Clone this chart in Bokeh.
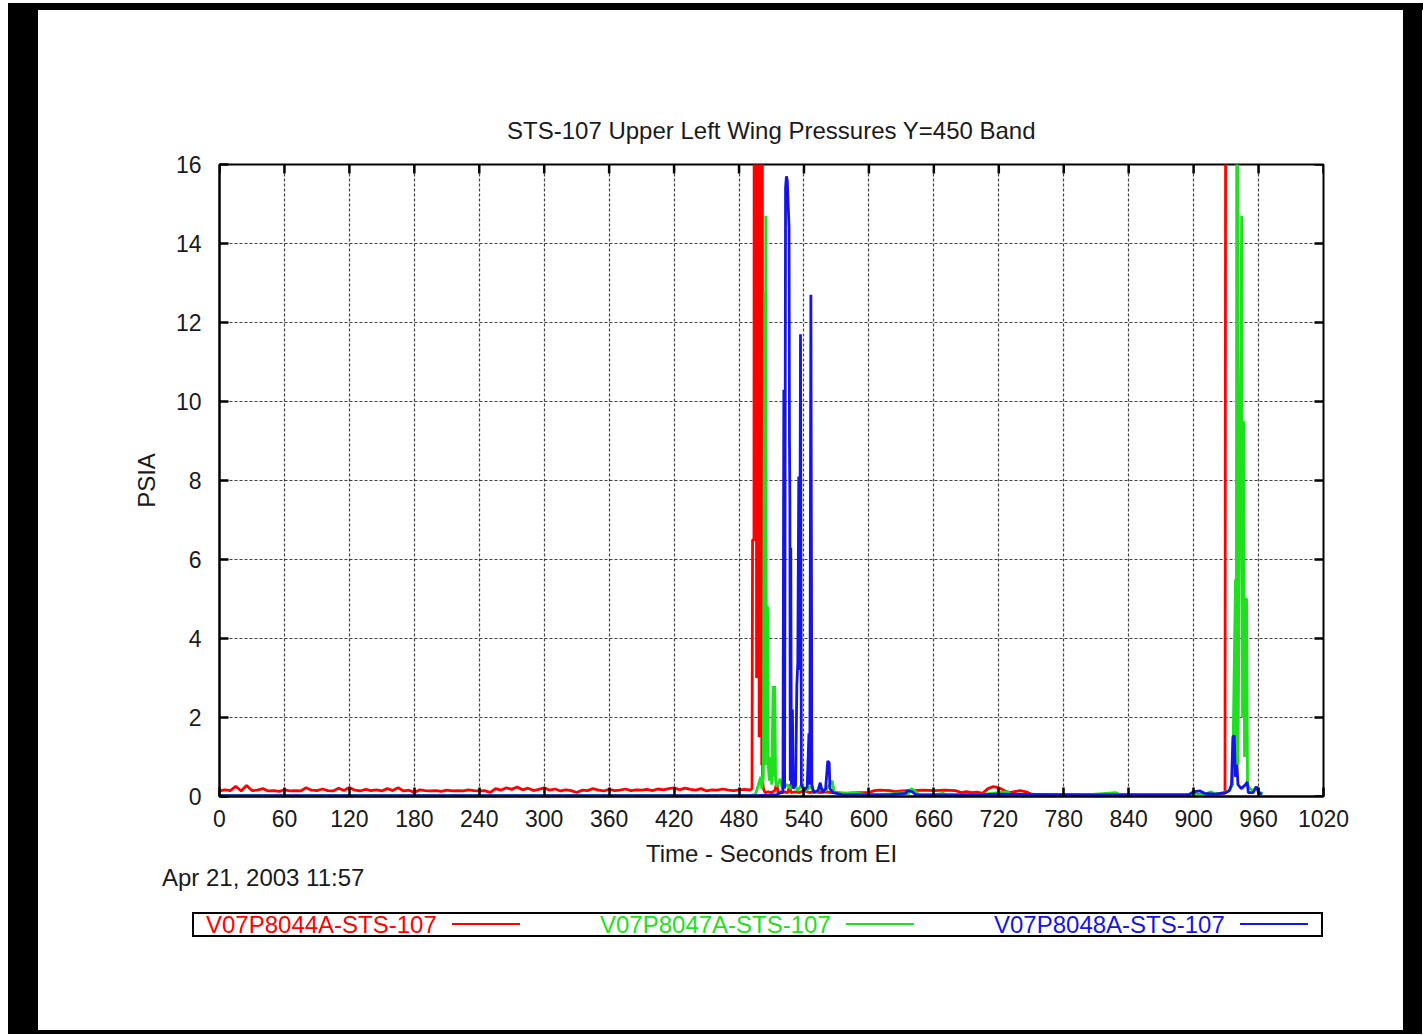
from bokeh.plotting import figure
from bokeh.models import Range1d, FixedTicker, Spacer, Div
from bokeh.layouts import column, row
from bokeh.embed import file_html
from bokeh.resources import INLINE

FONT = "Liberation Sans"
TXT = "#1a1a1a"

title_text = "STS-107 Upper Left Wing Pressures Y=450 Band"
x_label = "Time - Seconds from EI"
y_label = "PSIA"
date_text = "Apr 21, 2003 11:57"
x_ticks = [0, 60, 120, 180, 240, 300, 360, 420, 480, 540, 600, 660, 720, 780, 840, 900, 960, 1020]
y_ticks = [0, 2, 4, 6, 8, 10, 12, 14, 16]
series_names = ["V07P8044A-STS-107", "V07P8047A-STS-107", "V07P8048A-STS-107"]
series_colors = ["#ff0000", "#1ee01e", "#1414e6"]

# V07P8044A (red)
red_t = [0, 5, 10, 15, 20, 25, 30, 35, 40, 45, 50, 55, 60, 65, 70, 75, 80, 85, 90, 95,
         100, 105, 110, 115, 120, 125, 130, 135, 140, 145, 150, 155, 160, 165, 170, 175, 180, 185, 190, 195,
         200, 205, 210, 215, 220, 225, 230, 235, 240, 245, 250, 255, 260, 265, 270, 275, 280, 285, 290, 295,
         300, 305, 310, 315, 320, 325, 330, 335, 340, 345, 350, 355, 360, 365, 370, 375, 380, 385, 390, 395,
         400, 405, 410, 415, 420, 425, 430, 435, 440, 445, 450, 455, 460, 465, 470, 475, 480, 485, 490,
         492, 492.5, 493.8, 494.2, 494.6, 495.0, 495.4, 495.8, 496.2, 496.6, 497.0, 497.4, 497.8, 498.2,
         498.6, 499.0, 499.4, 499.8, 500.2, 500.6, 501.0, 501.4, 501.8, 502.5, 504, 507, 510, 513, 515, 516,
         520, 525, 527, 528, 532, 536, 540, 545, 550, 555, 560, 565, 570, 580, 590, 600, 605, 610, 620, 625,
         630, 640, 650, 660, 670, 680, 685, 690, 695, 700, 705, 710, 715, 720, 725, 730, 740, 745, 750, 760,
         780, 800, 820, 840, 860, 880, 900, 920, 929, 930, 965]
red_v = [0.14, 0.17, 0.15, 0.26, 0.14, 0.28, 0.15, 0.16, 0.20, 0.14, 0.15, 0.13, 0.17, 0.14, 0.15, 0.14, 0.22, 0.16, 0.15, 0.19,
         0.15, 0.14, 0.21, 0.15, 0.23, 0.16, 0.14, 0.18, 0.15, 0.17, 0.14, 0.20, 0.15, 0.22, 0.14, 0.16, 0.10, 0.17, 0.15, 0.14,
         0.15, 0.13, 0.16, 0.14, 0.15, 0.14, 0.17, 0.15, 0.14, 0.15, 0.10, 0.20, 0.16, 0.22, 0.18, 0.24, 0.17, 0.21, 0.15, 0.18,
         0.22, 0.16, 0.19, 0.14, 0.17, 0.15, 0.10, 0.16, 0.15, 0.20, 0.16, 0.14, 0.18, 0.15, 0.16, 0.19, 0.15, 0.17, 0.16, 0.18,
         0.15, 0.19, 0.17, 0.20, 0.22, 0.17, 0.21, 0.18, 0.16, 0.20, 0.14, 0.17, 0.16, 0.19, 0.16, 0.15, 0.17, 0.18, 0.16,
         0.20, 6.5, 6.5, 30, 10.8, 30, 8.8, 30, 3.0, 30, 12.0, 30, 5.0, 30,
         1.5, 30, 7.0, 30, 2.0, 30, 0.8, 30, 0.4, 0.20, 0.10, 0.12, 0.10, 0.15, 0.35, 0.10,
         0.12, 0.10, 0.30, 0.10, 0.12, 0.10, 0.15, 0.10, 0.12, 0.10, 0.12, 0.10, 0.10, 0.08, 0.10, 0.10, 0.15, 0.16, 0.15, 0.12,
         0.14, 0.15, 0.16, 0.15, 0.16, 0.15, 0.10, 0.12, 0.10, 0.11, 0.08, 0.20, 0.25, 0.22, 0.15, 0.10, 0.15, 0.12, 0.06, 0.05,
         0.05, 0.05, 0.05, 0.05, 0.05, 0.05, 0.05, 0.06, 0.08, 30, 30]

# V07P8047A (green)
green_t = [0, 490, 495, 498, 500, 501, 502.5, 503.3, 503.8, 504.3, 504.7, 505.3, 505.8, 506.4, 507.0, 508.0,
           509.3, 510.2, 511.5, 512.2, 513.0, 513.8, 515, 518, 520, 524, 528, 531, 534, 538, 542, 546, 550,
           555, 560, 566, 568, 575, 585, 595, 610, 625, 632, 636, 639, 642, 646, 660, 668, 672, 700, 720, 728,
           732, 760, 800, 828, 832, 880, 910, 916, 920, 928, 933, 936, 938.7, 939.4, 940.2, 941.0, 944.4, 945.2,
           946.3, 947.0, 947.8, 949.0, 949.8, 952, 955, 958, 961, 964]
green_v = [0.03, 0.03, 0.05, 0.30, 0.50, 0.20, 0.50, 8.8, 12.8, 0.8, 14.7, 2.0, 4.8, 4.8, 0.8, 0.4,
           1.0, 0.3, 2.8, 0.5, 2.8, 0.4, 0.25, 0.45, 0.20, 0.30, 0.20, 0.35, 0.15, 0.30, 0.15, 0.25, 0.10,
           0.20, 0.15, 0.40, 0.10, 0.08, 0.10, 0.06, 0.05, 0.08, 0.10, 0.05, 0.20, 0.15, 0.05, 0.04, 0.08, 0.04, 0.04, 0.10, 0.12,
           0.04, 0.04, 0.04, 0.10, 0.04, 0.04, 0.05, 0.12, 0.06, 0.10, 0.15, 0.30, 5.5, 0.5, 30, 0.8, 14.7, 2.0,
           9.5, 1.0, 5.0, 5.0, 0.3, 0.20, 0.15, 0.25, 0.10, 0.08]

# V07P8048A (blue)
blue_t = [0, 100, 200, 300, 400, 490, 505, 515, 519, 520.6, 521.4, 522.1, 523.0, 523.8, 524.6, 525.4, 526.2,
          526.6, 527.0, 527.3, 527.8, 528.4, 529.3, 530.0, 532.3, 533.4, 534.3, 535.2, 536.0, 536.8, 537.6, 540, 543,
          544.6, 545.4, 546.4, 547.3, 549, 553, 555, 557, 560, 562, 563.3, 564, 567, 575, 600, 620, 634, 636,
          640, 643, 660, 700, 720, 760, 800, 850, 895, 900, 906, 910, 920, 930, 933, 935, 936.3, 937.5, 938.5,
          940, 941, 944, 948, 949.5, 950.5, 955, 958, 960, 963]
blue_v = [0.02, 0.02, 0.02, 0.02, 0.02, 0.02, 0.03, 0.05, 0.10, 0.10, 10.3, 0.2, 15.4, 15.7, 15.6, 15.0, 14.4,
          9.0, 7.5, 0.4, 6.3, 0.3, 2.2, 0.2, 0.3, 2.8, 3.4, 8.1, 3.2, 11.7, 0.3, 0.15, 0.25,
          1.6, 0.3, 12.7, 0.3, 0.10, 0.15, 0.35, 0.10, 0.20, 0.90, 0.85, 0.20, 0.10, 0.05, 0.04, 0.05, 0.08, 0.15,
          0.12, 0.05, 0.04, 0.04, 0.06, 0.05, 0.04, 0.04, 0.04, 0.12, 0.14, 0.08, 0.06, 0.10, 0.15, 0.30, 1.5, 1.55, 0.5,
          0.8, 0.3, 0.2, 0.3, 0.37, 0.10, 0.10, 0.25, 0.10, 0.05]

FW, FH = 1104, 632
XMIN, XMAX, YMIN, YMAX = 0, 1020, 0, 16
p = figure(frame_width=FW, frame_height=FH,
           min_border_left=181, min_border_right=80, min_border_top=154, min_border_bottom=73,
           x_range=Range1d(XMIN, XMAX), y_range=Range1d(YMIN, YMAX),
           output_backend="svg", toolbar_location=None,
           background_fill_color="white", border_fill_color="white")
p.title.text = title_text
p.title.align = "center"
p.title.text_font = FONT
p.title.text_font_size = "24px"
p.title.text_font_style = "normal"
p.title.text_color = TXT
p.title.standoff = 42

p.outline_line_color = "black"
p.outline_line_width = 2
p.outline_line_alpha = 1

TICK = 9
for ax, ticks in ((p.xaxis[0], x_ticks), (p.yaxis[0], y_ticks)):
    ax.ticker = FixedTicker(ticks=ticks)
    ax.major_tick_in = TICK
    ax.major_tick_out = 0
    ax.major_tick_line_width = 2.5
    ax.major_tick_line_color = "black"
    ax.minor_tick_line_color = None
    ax.axis_line_color = "black"
    ax.axis_line_width = 2
    ax.major_label_text_font = FONT
    ax.major_label_text_font_size = "23px"
    ax.major_label_text_color = TXT
    ax.axis_label_text_font = FONT
    ax.axis_label_text_font_size = "24px"
    ax.axis_label_text_font_style = "normal"
    ax.axis_label_text_color = TXT

p.xaxis.axis_label = x_label
p.yaxis.axis_label = y_label
p.xaxis.major_label_standoff = 13
p.xaxis.axis_label_standoff = 10
p.yaxis.major_label_standoff = 18
p.yaxis.axis_label_standoff = 13

p.xgrid.ticker = FixedTicker(ticks=x_ticks)
p.ygrid.ticker = FixedTicker(ticks=y_ticks)
p.grid.grid_line_color = "#222222"
p.grid.grid_line_alpha = 0.85
p.grid.grid_line_width = 1.2
p.grid.grid_line_dash = "3 2"

for t, v, c in ((red_t, red_v, series_colors[0]),
                (green_t, green_v, series_colors[1]),
                (blue_t, blue_v, series_colors[2])):
    p.line(t, v, line_color=c, line_width=2.8)

# inward tick marks on the top and right edges (mirroring the bottom / left axes)
dy = TICK * (YMAX - YMIN) / FH
dx = TICK * (XMAX - XMIN) / FW
p.segment(x0=x_ticks, y0=[YMAX] * len(x_ticks), x1=x_ticks, y1=[YMAX - dy] * len(x_ticks),
          line_color="black", line_width=2.5)
p.segment(x0=[XMAX] * len(y_ticks), y0=y_ticks, x1=[XMAX - dx] * len(y_ticks), y1=y_ticks,
          line_color="black", line_width=2.5)

# date stamp and gnuplot-style key (text first, then line sample)
key_text_x = [168, 562, 956]
key_line_x = [414, 808, 1202]
KEY_TOP = 43
entries = ""
for name, c, tx, lx in zip(series_names, series_colors, key_text_x, key_line_x):
    entries += (f'<span style="position:absolute;left:{tx}px;top:{KEY_TOP}px;height:25px;line-height:25px;'
                f'color:{c};white-space:nowrap;">{name}</span>'
                f'<span style="position:absolute;left:{lx}px;top:{KEY_TOP + 11}px;width:68px;height:0;'
                f'border-top:2px solid {c};"></span>')
html = (f'<div style="position:relative;width:1365px;height:161px;background:white;'
        f'font-family:\'{FONT}\';font-size:24px;color:{TXT};">'
        f'<span style="position:absolute;left:124px;top:-3px;line-height:24px;white-space:nowrap;">{date_text}</span>'
        f'<div style="position:absolute;left:154px;top:{KEY_TOP}px;width:1131px;height:25px;'
        f'border:2px solid black;box-sizing:border-box;"></div>'
        f'{entries}</div>')
bottom = Div(text=html, width=1365, height=161, styles={"background-color": "white", "margin": "0"})

WHITE = {"background-color": "white"}
BLACK = {"background-color": "black"}
inner = column(p, bottom, spacing=0)
layout = column(
    Spacer(width=1423, height=3, styles=WHITE),
    row(Spacer(width=8, height=7, styles=WHITE), Spacer(width=1415, height=7, styles=BLACK), spacing=0),
    row(Spacer(width=8, height=1020, styles=WHITE), Spacer(width=30, height=1020, styles=BLACK),
        inner, Spacer(width=19, height=1020, styles=BLACK), spacing=0),
    row(Spacer(width=8, height=4, styles=WHITE), Spacer(width=1414, height=4, styles=BLACK), spacing=0),
    spacing=0)

open("out.html", "w").write(file_html(layout, INLINE))
